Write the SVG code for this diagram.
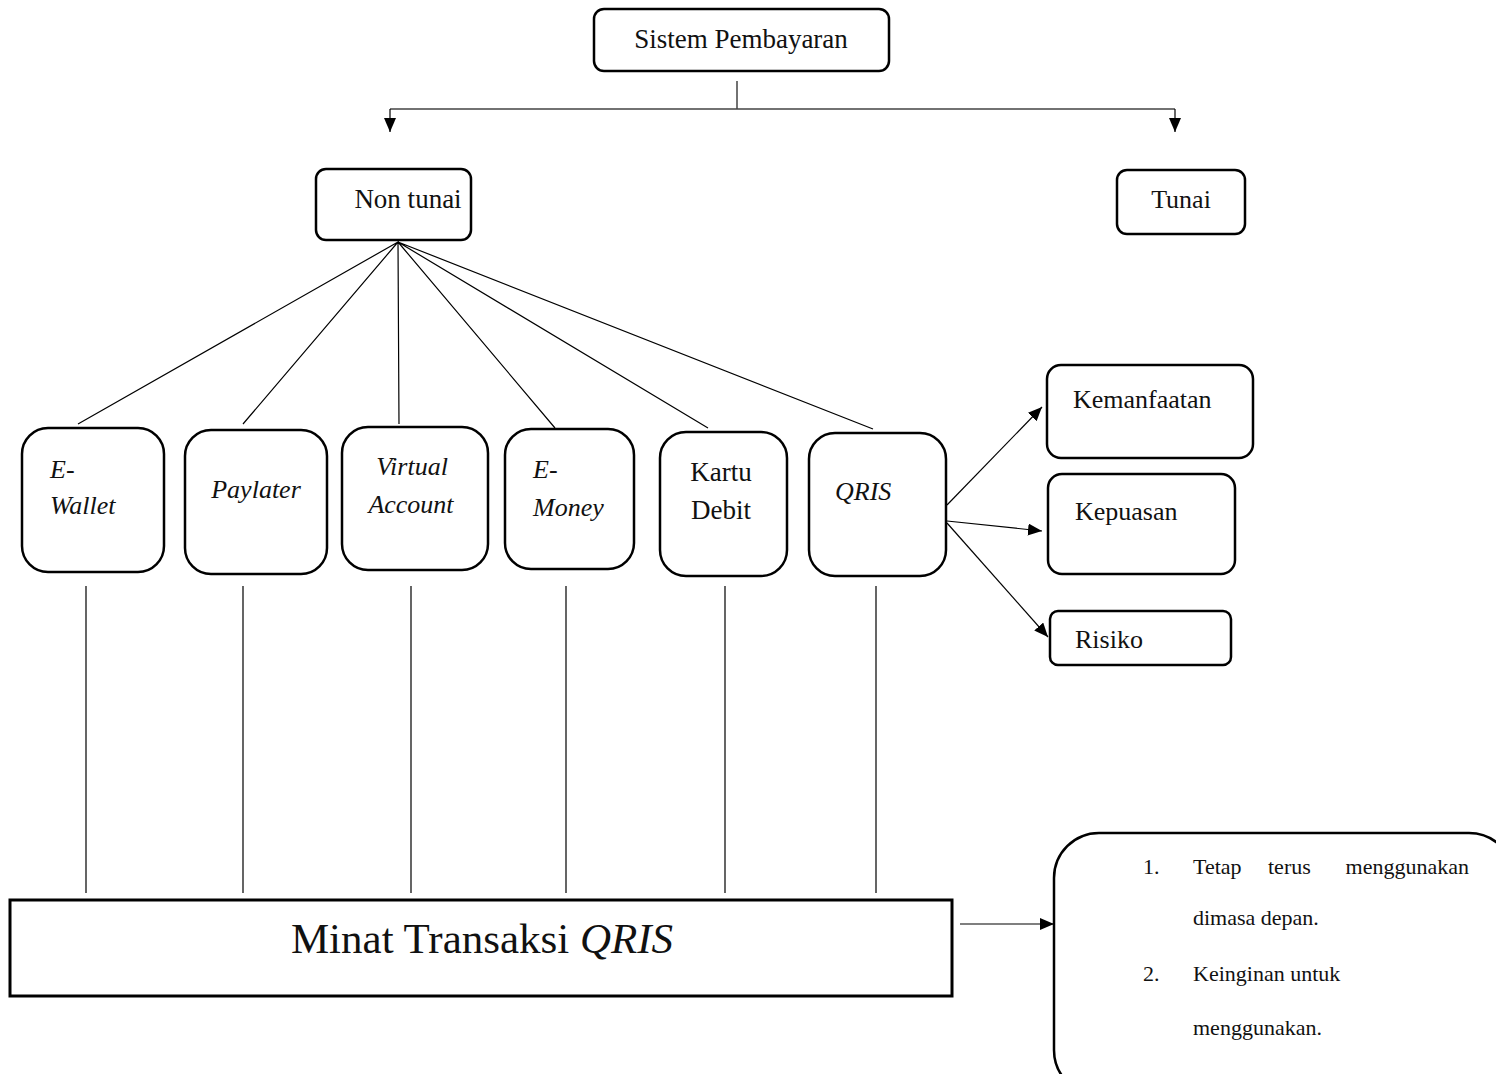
<svg xmlns="http://www.w3.org/2000/svg" width="1496" height="1074" viewBox="0 0 1496 1074">
<style>
.box{fill:#fff;stroke:#000;stroke-width:2.5}
text{font-family:'Liberation Serif','DejaVu Serif',serif;fill:#111}
.t{font-size:26px}
.s27{font-size:27px}
.s22{font-size:22px}
.s43{font-size:43px}
.i{font-style:italic}
.ln{stroke:#000;stroke-width:1.2;fill:none}
.gl{stroke:#444;stroke-width:1.5;fill:none}
</style>
<defs>
<marker id="ah" markerUnits="userSpaceOnUse" markerWidth="14" markerHeight="12" refX="14" refY="6" orient="auto">
<path d="M0,0 L14,6 L0,12 z" fill="#000"/>
</marker>
</defs>
<rect width="1496" height="1074" fill="#fff"/>
<g id="connectors">
<path class="gl" d="M737,81 V109 M390,109 H1175"/>
<path class="ln" d="M390,109 V132" marker-end="url(#ah)"/>
<path class="ln" d="M1175,109 V132" marker-end="url(#ah)"/>
<path class="ln" d="M398,242 L78,424 M398,242 L243,424 M398,242 L399,424 M398,242 L555,428 M398,242 L708,428 M398,242 L873,429"/>
<path class="ln" d="M947,505 L1042,407" marker-end="url(#ah)"/>
<path class="ln" d="M947,521 L1042,531" marker-end="url(#ah)"/>
<path class="ln" d="M947,523 L1048,637" marker-end="url(#ah)"/>
<path class="ln" d="M86,586 V893 M243,586 V893 M411,586 V893 M566,586 V893 M725,586 V893 M876,586 V893"/>
<path class="ln" d="M960,924 H1054" marker-end="url(#ah)"/>
</g>
<g id="sistem"><rect class="box" x="594" y="9" width="295" height="62" rx="10"/><text class="s27" x="741" y="48" text-anchor="middle">Sistem Pembayaran</text></g>
<g id="nontunai"><rect class="box" x="316" y="169" width="155" height="71" rx="10"/><text class="s27" x="408" y="208" text-anchor="middle">Non tunai</text></g>
<g id="tunai"><rect class="box" x="1117" y="170" width="128" height="64" rx="10"/><text class="t" x="1181" y="208" text-anchor="middle">Tunai</text></g>
<g id="ewallet"><rect class="box" x="22" y="428" width="142" height="144" rx="26"/><text class="t i" x="50" y="478">E-</text><text class="t i" x="50" y="514">Wallet</text></g>
<g id="paylater"><rect class="box" x="185" y="430" width="142" height="144" rx="26"/><text class="t i" x="256" y="498" text-anchor="middle">Paylater</text></g>
<g id="virtual"><rect class="box" x="342" y="427" width="146" height="143" rx="26"/><text class="t i" x="412" y="475" text-anchor="middle">Virtual</text><text class="t i" x="411" y="513" text-anchor="middle">Account</text></g>
<g id="emoney"><rect class="box" x="505" y="429" width="129" height="140" rx="26"/><text class="t i" x="533" y="478">E-</text><text class="t i" x="533" y="516">Money</text></g>
<g id="kartu"><rect class="box" x="660" y="432" width="127" height="144" rx="26"/><text class="s27" x="721" y="481" text-anchor="middle">Kartu</text><text class="s27" x="721" y="519" text-anchor="middle">Debit</text></g>
<g id="qris"><rect class="box" x="809" y="433" width="137" height="143" rx="26"/><text class="t i" x="835" y="500">QRIS</text></g>
<g id="kemanfaatan"><rect class="box" x="1047" y="365" width="206" height="93" rx="14"/><text class="t" x="1073" y="408">Kemanfaatan</text></g>
<g id="kepuasan"><rect class="box" x="1048" y="474" width="187" height="100" rx="14"/><text class="t" x="1075" y="520">Kepuasan</text></g>
<g id="risiko"><rect class="box" x="1050" y="611" width="181" height="54" rx="8"/><text class="t" x="1075" y="648">Risiko</text></g>
<g id="minat"><rect x="10" y="900" width="942" height="96" fill="#fff" stroke="#000" stroke-width="3"/><text class="s43" x="482" y="953" text-anchor="middle">Minat Transaksi <tspan class="i">QRIS</tspan></text></g>
<g id="indikator"><rect class="box" x="1054" y="833" width="460" height="262" rx="45"/>
<text class="s22" x="1143" y="874">1.</text>
<text class="s22" x="1193" y="874">Tetap</text>
<text class="s22" x="1268" y="874">terus</text>
<text class="s22" x="1469" y="874" text-anchor="end">menggunakan</text>
<text class="s22" x="1193" y="925">dimasa depan.</text>
<text class="s22" x="1143" y="981">2.</text>
<text class="s22" x="1193" y="981">Keinginan untuk</text>
<text class="s22" x="1193" y="1035">menggunakan.</text>
</g>
</svg>
